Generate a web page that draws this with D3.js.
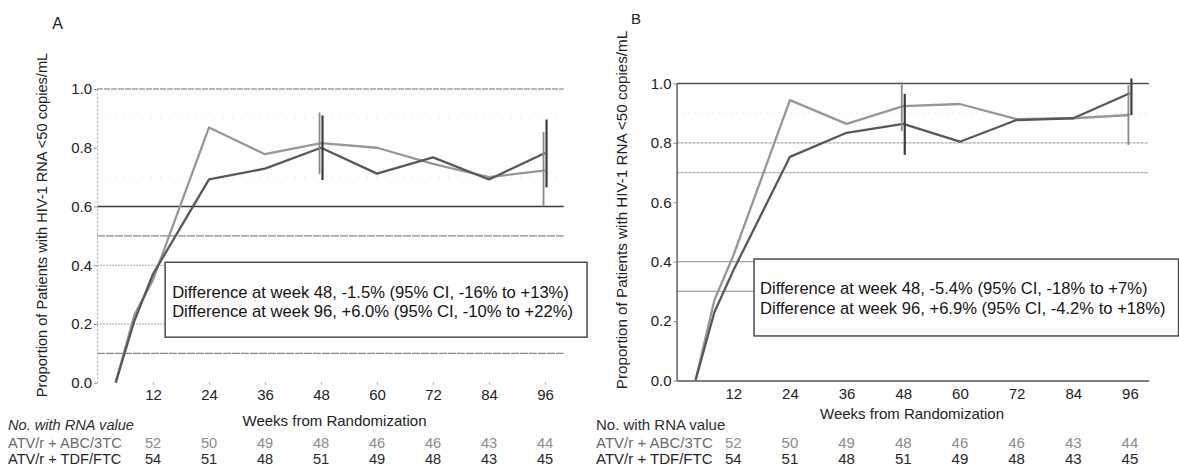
<!DOCTYPE html>
<html>
<head>
<meta charset="utf-8">
<script src="https://cdn.jsdelivr.net/npm/d3@7"></script>
<style>
  html, body { margin: 0; padding: 0; background: #fff; }
  svg { display: block; font-family: "Liberation Sans", Arial, sans-serif; }
</style>
</head>
<body>
<svg id="chart" width="1179" height="466"></svg>
<script>
// ---------------- DATA ----------------
const weeks = [4, 8, 12, 24, 36, 48, 60, 72, 84, 96];
const xTickWeeks = [12, 24, 36, 48, 60, 72, 84, 96];
const yTicks = [0, 0.2, 0.4, 0.6, 0.8, 1.0];
const seriesNames = ["ATV/r + ABC/3TC", "ATV/r + TDF/FTC"];

const panelA_ABC = [0, 0.21, 0.37, 0.692, 0.729, 0.800, 0.712, 0.767, 0.692, 0.782];
const panelA_TDF = [0, 0.23, 0.35, 0.869, 0.778, 0.816, 0.800, 0.745, 0.700, 0.723];
const panelB_ABC = [0, 0.23, 0.37, 0.753, 0.834, 0.864, 0.804, 0.877, 0.883, 0.967];
const panelB_TDF = [0, 0.27, 0.42, 0.944, 0.864, 0.924, 0.931, 0.880, 0.883, 0.894];

const ciWeeks = [48, 96];
const panelA_ABC_ci = [[0.69, 0.91], [0.665, 0.896]];
const panelA_TDF_ci = [[0.71, 0.92], [0.60, 0.854]];
const panelB_ABC_ci = [[0.76, 0.965], [0.894, 1.017]];
const panelB_TDF_ci = [[0.84, 1.005], [0.793, 0.995]];

const countsABC = [52, 50, 49, 48, 46, 46, 43, 44];
const countsTDF = [54, 51, 48, 51, 49, 48, 43, 45];

const panelA_diff = ["Difference at week 48, -1.5% (95% CI, -16% to +13%)",
                     "Difference at week 96, +6.0% (95% CI, -10% to +22%)"];
const panelB_diff = ["Difference at week 48, -5.4% (95% CI, -18% to +7%)",
                     "Difference at week 96, +6.9% (95% CI, -4.2% to +18%)"];

const yTitle = "Proportion of Patients with HIV-1 RNA <50 copies/mL";
const xTitle = "Weeks from Randomization";
const tableTitle = "No. with RNA value";
const panelLabels = ["A", "B"];

// ---------------- LAYOUT / DRAW ----------------
const svg = d3.select("#chart");
const DARK = "#585858", LIGHT = "#979797";

function drawPanel(cfg) {
  const g = svg.append("g");
  const x = d3.scaleLinear().domain([0, 100]).range([cfg.x0, cfg.x1]);
  const y = d3.scaleLinear().domain([0, 1]).range([cfg.y0, cfg.y1]);

  // grid lines
  cfg.grid.forEach(gl => {
    g.append("line")
      .attr("x1", x(0)).attr("x2", x(gl.to !== undefined ? gl.to : 100))
      .attr("y1", y(gl.v)).attr("y2", y(gl.v))
      .attr("stroke", gl.c).attr("stroke-width", gl.w)
      .attr("stroke-dasharray", gl.dash || null);
  });

  // annotation box
  g.append("rect")
    .attr("x", x(cfg.box.w0)).attr("y", y(cfg.box.v1))
    .attr("width", x(cfg.box.w1) - x(cfg.box.w0))
    .attr("height", y(cfg.box.v0) - y(cfg.box.v1))
    .attr("fill", "none").attr("stroke", "#4a4a4a").attr("stroke-width", 1.5);
  cfg.diff.forEach((t, i) => {
    g.append("text")
      .attr("x", x(cfg.box.w0) + cfg.textDx)
      .attr("y", cfg.textY0 + i * 19.5)
      .attr("font-size", 16.6).attr("fill", "#141414")
      .text(t);
  });

  // y axis
  const yAx = g.append("g").attr("transform", `translate(${x(0)},0)`)
    .call(d3.axisLeft(y).tickValues(yTicks).tickFormat(d3.format(".1f"))
      .tickSize(3).tickSizeOuter(0).tickPadding(2));
  yAx.selectAll("text").attr("font-size", 15).attr("fill", "#222")
    .attr("font-family", "Liberation Sans, Arial, sans-serif");
  yAx.selectAll(".tick line").attr("stroke", "#888");
  yAx.select(".domain").attr("stroke", cfg.yDomainColor)
    .attr("stroke-width", cfg.yDomainWidth)
    .attr("stroke-dasharray", cfg.yDomainDash || null);

  // x axis
  const xAx = g.append("g").attr("transform", `translate(0,${y(0)})`)
    .call(d3.axisBottom(x).tickValues(xTickWeeks).tickSize(cfg.xTickSize)
      .tickSizeOuter(0).tickPadding(cfg.xTickPad));
  xAx.selectAll("text").attr("font-size", 15).attr("fill", "#222")
    .attr("font-family", "Liberation Sans, Arial, sans-serif");
  xAx.selectAll(".tick line").attr("stroke", "#999");
  if (cfg.xDomain) {
    xAx.select(".domain").attr("stroke", "#555").attr("stroke-width", 1.3);
  } else {
    xAx.select(".domain").remove();
  }

  // series lines
  const line = d3.line().x(d => x(d[0])).y(d => y(d[1]));
  const ser = [
    { vals: cfg.tdf, ci: cfg.tdfCi, color: LIGHT, off: -1.5, ciw: 1.8 },
    { vals: cfg.abc, ci: cfg.abcCi, color: DARK, off: 1.5, ciw: 2.2 }
  ];
  ser.forEach(s => {
    g.append("path")
      .datum(weeks.map((w, i) => [w, s.vals[i]]))
      .attr("d", line).attr("fill", "none")
      .attr("stroke", s.color).attr("stroke-width", 2.3)
      .attr("stroke-linejoin", "round");
  });
  ser.forEach(s => {
    ciWeeks.forEach((w, i) => {
      g.append("line")
        .attr("x1", x(w) + s.off).attr("x2", x(w) + s.off)
        .attr("y1", y(s.ci[i][0])).attr("y2", y(s.ci[i][1]))
        .attr("stroke", s.color === DARK ? "#3c3c3c" : "#8a8a8a")
        .attr("stroke-width", s.ciw);
    });
  });

  // titles
  g.append("text")
    .attr("transform", `translate(${cfg.yTitleX},${cfg.yTitleY}) rotate(-90)`)
    .attr("text-anchor", "middle").attr("font-size", cfg.yTitleSize)
    .attr("fill", "#222").text(yTitle);
  g.append("text")
    .attr("x", cfg.xTitleX).attr("y", cfg.xTitleY)
    .attr("text-anchor", "middle").attr("font-size", 15)
    .attr("fill", "#222").text(xTitle);
  g.append("text")
    .attr("x", cfg.labelX).attr("y", cfg.labelY)
    .attr("text-anchor", "middle").attr("font-size", cfg.labelSize)
    .attr("fill", "#222").text(cfg.label);

  // number-at-risk table
  g.append("text")
    .attr("x", cfg.tableX).attr("y", 430)
    .attr("font-size", cfg.tableSize).attr("fill", "#2e2e2e")
    .attr("font-style", cfg.tableItalic ? "italic" : "normal")
    .text(tableTitle);
  const rows = [
    { name: seriesNames[0], counts: countsABC, lc: "#6a6a6a", nc: "#8c8c8c", yb: 448 },
    { name: seriesNames[1], counts: countsTDF, lc: "#262626", nc: "#262626", yb: 464 }
  ];
  rows.forEach(r => {
    g.append("text").attr("x", cfg.tableX).attr("y", r.yb)
      .attr("font-size", cfg.tableSize).attr("fill", r.lc).text(r.name);
    g.selectAll(null).data(r.counts).enter().append("text")
      .attr("x", (d, i) => x(xTickWeeks[i]))
      .attr("y", r.yb).attr("text-anchor", "middle")
      .attr("font-size", cfg.tableSize).attr("fill", r.nc)
      .text(d => d);
  });
}

// Panel A
drawPanel({
  label: panelLabels[0], labelX: 57.5, labelY: 29, labelSize: 16,
  x0: 97, x1: 563.7, y0: 382.7, y1: 89,
  abc: panelA_ABC, tdf: panelA_TDF, abcCi: panelA_ABC_ci, tdfCi: panelA_TDF_ci,
  diff: panelA_diff,
  box: { w0: 14.6, w1: 105, v0: 0.155, v1: 0.41 },
  textDx: 7, textY0: 297.5,
  grid: [
    { v: 1.0, c: "#a0a0a0", w: 1.4, dash: "6,1" },
    { v: 0.9, c: "#d8d8d8", w: 1, dash: "1,8" },
    { v: 0.7, c: "#d8d8d8", w: 1, dash: "1,8" },
    { v: 0.6, c: "#3a3a3a", w: 1.5 },
    { v: 0.5, c: "#8a8a8a", w: 1.3, dash: "8,1" },
    { v: 0.4, c: "#aaaaaa", w: 1.1, dash: "2,1", to: 14.6 },
    { v: 0.2, c: "#aaaaaa", w: 1.1, dash: "2,1", to: 14.6 },
    { v: 0.1, c: "#8a8a8a", w: 1.3, dash: "8,1" }
  ],
  yDomainColor: "#b0b0b0", yDomainWidth: 1, yDomainDash: "2,2",
  xTickSize: 2, xTickPad: 5, xDomain: false,
  yTitleX: 47, yTitleY: 225, yTitleSize: 14.6,
  xTitleX: 334.5, xTitleY: 425.5,
  tableX: 8, tableSize: 14.6, tableItalic: true
});

// Panel B
drawPanel({
  label: panelLabels[1], labelX: 636, labelY: 23.5, labelSize: 15,
  x0: 676.6, x1: 1148.8, y0: 380.5, y1: 83.5,
  abc: panelB_ABC, tdf: panelB_TDF, abcCi: panelB_ABC_ci, tdfCi: panelB_TDF_ci,
  diff: panelB_diff,
  box: { w0: 16.4, w1: 106.3, v0: 0.15, v1: 0.409 },
  textDx: 6, textY0: 294.3,
  grid: [
    { v: 1.0, c: "#505050", w: 1.4 },
    { v: 0.9, c: "#d0d0d0", w: 1, dash: "1,5" },
    { v: 0.8, c: "#a8a8a8", w: 1.1, dash: "3,1" },
    { v: 0.7, c: "#a8a8a8", w: 1.1, dash: "3,1" },
    { v: 0.4, c: "#a0a0a0", w: 1.3, to: 16.4 },
    { v: 0.3, c: "#a0a0a0", w: 1.3, to: 16.4 },
    { v: 0.1, c: "#e0e0e0", w: 1, dash: "1,7" }
  ],
  yDomainColor: "#555", yDomainWidth: 1.4, yDomainDash: null,
  xTickSize: 0, xTickPad: 8, xDomain: true,
  yTitleX: 627, yTitleY: 210, yTitleSize: 15.2,
  xTitleX: 912, xTitleY: 418.5,
  tableX: 596, tableSize: 15, tableItalic: false
});
</script>
</body>
</html>
